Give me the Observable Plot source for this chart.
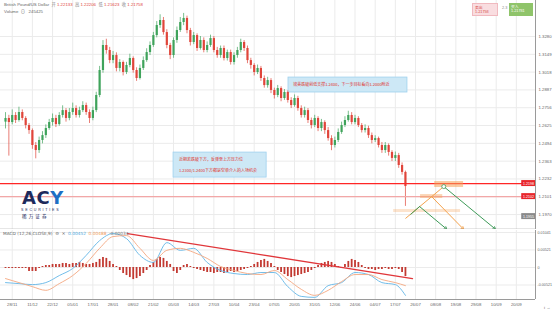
<!DOCTYPE html>
<html><head><meta charset="utf-8">
<script src="https://cdn.jsdelivr.net/npm/d3@7"></script>
<script src="https://cdn.jsdelivr.net/npm/@observablehq/plot@0.6"></script>
<style>
body{margin:0;background:#fff;font-family:"Liberation Sans","Noto Sans CJK SC",sans-serif}
#wrap{position:relative;width:553px;height:311px;overflow:hidden;background:#fff}
#main,#macd{position:absolute;left:0}
#main{top:0}#macd{top:229px}
.ov{position:absolute;white-space:nowrap;line-height:1}
</style></head><body><div id="wrap"><div id="main"></div><div id="macd"></div></div>
<script>
// ---------- data ----------
const firstOpen = 1.2650;
const closes = [
1.2677,1.2647,1.2699,1.2662,1.2721,1.2677,1.2625,1.2588,1.2478,1.2441,
1.2515,1.2551,1.2603,1.2647,1.2677,1.2632,1.2699,1.2735,1.2677,1.2721,
1.2750,1.2699,1.2735,1.2772,1.2721,1.2677,1.2735,1.2846,1.3030,1.3214,
1.3177,1.3103,1.3140,1.3045,1.3089,1.3015,1.3067,1.3118,1.3030,1.2971,
1.3045,1.3103,1.3162,1.3214,1.3287,1.3361,1.3398,1.3309,1.3214,1.3140,
1.3251,1.3324,1.3383,1.3413,1.3324,1.3236,1.3287,1.3192,1.3251,1.3177,
1.3214,1.3265,1.3177,1.3140,1.3192,1.3118,1.3162,1.3089,1.3140,1.3177,
1.3236,1.3192,1.3103,1.3067,1.3015,1.3045,1.2971,1.2919,1.2956,1.2883,
1.2846,1.2897,1.2824,1.2868,1.2809,1.2772,1.2824,1.2750,1.2699,1.2735,
1.2662,1.2625,1.2677,1.2603,1.2647,1.2588,1.2529,1.2478,1.2515,1.2574,
1.2625,1.2662,1.2699,1.2647,1.2677,1.2625,1.2588,1.2603,1.2551,1.2515,
1.2529,1.2478,1.2441,1.2478,1.2427,1.2383,1.2404,1.2331,1.2280,1.2176];
const highs = [
1.2720,1.2700,1.2740,1.2720,1.2760,1.2740,1.2690,1.2640,1.2600,1.2500,
1.2540,1.2580,1.2630,1.2670,1.2710,1.2700,1.2720,1.2770,1.2750,1.2750,
1.2790,1.2770,1.2760,1.2800,1.2790,1.2740,1.2760,1.2870,1.3060,1.3250,
1.3260,1.3200,1.3170,1.3160,1.3110,1.3100,1.3090,1.3150,1.3130,1.3050,
1.3070,1.3130,1.3190,1.3240,1.3310,1.3390,1.3440,1.3420,1.3330,1.3230,
1.3270,1.3350,1.3420,1.3450,1.3430,1.3340,1.3310,1.3300,1.3280,1.3270,
1.3240,1.3290,1.3280,1.3200,1.3210,1.3210,1.3180,1.3180,1.3160,1.3200,
1.3260,1.3250,1.3210,1.3120,1.3080,1.3070,1.3060,1.2990,1.2980,1.2970,
1.2900,1.2920,1.2910,1.2890,1.2880,1.2830,1.2850,1.2840,1.2770,1.2760,
1.2750,1.2680,1.2700,1.2690,1.2670,1.2660,1.2610,1.2550,1.2540,1.2600,
1.2650,1.2690,1.2730,1.2720,1.2700,1.2690,1.2640,1.2630,1.2620,1.2570,
1.2550,1.2540,1.2500,1.2500,1.2490,1.2440,1.2430,1.2420,1.2350,1.2290];
const lows = [
1.2600,1.2400,1.2630,1.2640,1.2650,1.2660,1.2600,1.2560,1.2450,1.2380,
1.2420,1.2490,1.2530,1.2590,1.2620,1.2610,1.2620,1.2680,1.2650,1.2660,
1.2700,1.2680,1.2680,1.2720,1.2700,1.2640,1.2660,1.2720,1.2830,1.3010,
1.3150,1.3080,1.3080,1.3020,1.3020,1.2990,1.3000,1.3050,1.3010,1.2950,
1.2960,1.3030,1.3090,1.3140,1.3200,1.3270,1.3340,1.3290,1.3190,1.3110,
1.3120,1.3230,1.3310,1.3360,1.3300,1.3210,1.3220,1.3170,1.3180,1.3160,
1.3160,1.3200,1.3160,1.3120,1.3120,1.3100,1.3100,1.3070,1.3070,1.3120,
1.3160,1.3170,1.3080,1.3040,1.2990,1.3000,1.2950,1.2900,1.2900,1.2860,
1.2820,1.2830,1.2800,1.2810,1.2790,1.2750,1.2760,1.2730,1.2680,1.2680,
1.2640,1.2600,1.2610,1.2580,1.2580,1.2560,1.2510,1.2440,1.2460,1.2500,
1.2560,1.2610,1.2650,1.2630,1.2630,1.2610,1.2570,1.2570,1.2530,1.2490,
1.2500,1.2460,1.2420,1.2420,1.2400,1.2360,1.2360,1.2310,1.2260,1.2030];

const priceTicks = [1.3280,1.3149,1.3018,1.2887,1.2756,1.2625,1.2494,1.2363,1.2232,1.2101,1.1970];
const dateLabels = ["28/11","11/12","22/12","05/01","17/01","28/01","08/02","21/02","05/03","14/03","27/03","10/04","23/04","07/05","20/05","31/05","12/06","24/06","04/07","17/07","26/07","08/08","19/08","29/08","10/09","20/09"];

const macdIdx = [0,4,8,12,16,20,24,28,32,36,40,44,48,52,56,60,64,68,72,76,80,84,88,92,96,100,104,108,112,116,119];
const difValues = [-0.0045,-0.0048,-0.0051,-0.0045,-0.0024,-0.0003,0.0036,0.0080,0.0101,0.0086,0.0036,0.0015,0.0074,0.0051,0.0057,0.0015,-0.0009,-0.0018,-0.0021,-0.0015,-0.0015,-0.0057,-0.0086,-0.0089,-0.0054,-0.0045,-0.0015,-0.0021,-0.0045,-0.0051,-0.0083];
const deaValues = [-0.0033,-0.0045,-0.0057,-0.0068,-0.0048,-0.0024,0.0012,0.0057,0.0092,0.0095,0.0057,0.0021,0.0051,0.0057,0.0045,0.0027,0.0003,-0.0009,-0.0018,-0.0021,-0.0009,-0.0036,-0.0065,-0.0083,-0.0068,-0.0042,-0.0021,-0.0021,-0.0036,-0.0045,-0.0054];
const histValues = [
-0.0003,-0.0003,-0.0003,-0.0003,-0.0003,-0.0003,-0.0003,-0.0012,-0.0012,-0.0012,
-0.0003,0.0003,0.0006,0.0006,0.0009,0.0009,0.0009,0.0012,0.0012,0.0009,
0.0012,0.0012,0.0015,0.0012,0.0009,0.0009,0.0012,0.0015,0.0024,0.0030,
0.0027,0.0018,0.0009,0.0003,-0.0009,-0.0018,-0.0024,-0.0030,-0.0036,-0.0033,
-0.0027,-0.0018,-0.0009,0.0006,0.0015,0.0024,0.0030,0.0027,0.0018,0.0009,
-0.0012,-0.0018,-0.0009,0.0006,0.0009,0.0003,-0.0003,-0.0006,-0.0009,-0.0012,
-0.0015,-0.0015,-0.0018,-0.0015,-0.0015,-0.0018,-0.0015,-0.0012,-0.0015,-0.0012,
-0.0009,-0.0006,-0.0003,0.0003,0.0009,0.0015,0.0021,0.0024,0.0018,0.0012,
0.0003,-0.0009,-0.0015,-0.0021,-0.0027,-0.0030,-0.0027,-0.0024,-0.0021,-0.0018,
-0.0015,-0.0009,-0.0003,0.0006,0.0012,0.0015,0.0018,0.0015,0.0009,0.0003,
-0.0003,0.0009,0.0018,0.0024,0.0021,0.0015,0.0006,-0.0003,-0.0006,-0.0006,
-0.0009,-0.0006,-0.0006,-0.0003,-0.0006,-0.0006,-0.0003,-0.0006,-0.0015,-0.0027];
const macdTicks = [0.01041,0.00521,0,-0.00521];
const macdTrendIdx = [36.3,121.1];
const macdTrendVal = [0.0101,-0.0033];

// horizontal levels & annotations (data units)
const levelMain = 1.2198;
const levelSecond = 1.2102;
const markerValue = 1.1955;
const zones = [
  {x1:127.7,x2:136.3,y1:1.2169,y2:1.2213,op:0.55},
  {x1:123.5,x2:130.1,y1:1.2088,y2:1.2117,op:0.45},
  {x1:115.5,x2:135.4,y1:1.1985,y2:1.2007,op:0.3}];
const projSegs = [
  {x1:119.0,y1:1.1941,x2:130.4,y2:1.2176,c:"#f4a24c",head:false},
  {x1:130.4,y1:1.2176,x2:145.8,y2:1.1862,c:"#3e9a58",head:true},
  {x1:126.8,y1:1.2102,x2:136.3,y2:1.1862,c:"#f4a24c",head:true},
  {x1:120.5,y1:1.1970,x2:123.2,y2:1.2029,c:"#3e9a58",head:false},
  {x1:123.2,y1:1.2029,x2:131.3,y2:1.1862,c:"#3e9a58",head:true}];
const notes = [
  {x1:84.2,x2:119.6,y1:1.2868,y2:1.2978,lines:[{x:85.6,y:1.2923,t:"镑美跌破前低支撑1.2400，下一步目标看向1.2000附近"}]},
  {x1:50.0,x2:77.7,y1:1.2242,y2:1.2426,lines:[{x:51.6,y:1.2375,t:"近期若跌破下方，反弹至上方压力位"},{x:51.6,y:1.2294,t:"1.2300/1.2400下方都是空单介入的入场机会"}]}];

// ---------- build ----------
const xDomain = [-1.49,157.7];
const yDomain = [1.1860,1.3545];
const macdDomain = [-0.00953,0.01101];
const G = "#3fa35b", R = "#e0453a";
const candles = closes.map((c,i)=>({i,open:i===0?firstOpen:closes[i-1],close:c,high:highs[i],low:lows[i]}));
const col = d => d.close>=d.open ? G : R;
const dateIdx = dateLabels.map((d,k)=>2+6*k);
const labelVals = [levelMain, levelSecond];
const noteLines = notes.flatMap(n=>n.lines);
const axisStyle = {fontSize:"4.3px",fontFamily:"Liberation Sans, sans-serif",color:"#666",background:"transparent"};

const main = Plot.plot({
  width:553,height:229,marginTop:0,marginBottom:0,marginLeft:0,marginRight:18,
  x:{domain:xDomain,axis:null},y:{domain:yDomain},color:{type:"identity"},
  style:axisStyle,
  marks:[
    Plot.gridY(priceTicks,{stroke:"#ebebeb",strokeOpacity:1}),
    Plot.gridX(dateIdx,{stroke:"#ebebeb",strokeOpacity:1}),
    Plot.rect(notes,{x1:"x1",x2:"x2",y1:"y1",y2:"y2",fill:"#cde8f6",stroke:"#9fd1ee",strokeWidth:0.8}),
    Plot.text(noteLines,{x:"x",y:"y",text:"t",textAnchor:"start",fontSize:4,fill:"#e0322a",fontFamily:"Noto Sans CJK SC"}),
    Plot.ruleX(candles,{x:"i",y1:"low",y2:"high",stroke:col,strokeWidth:0.7}),
    Plot.ruleX(candles,{x:"i",y1:"open",y2:"close",stroke:col,strokeWidth:2.2}),
    Plot.ruleY([levelSecond],{stroke:"#f2a7a7",strokeWidth:1.1}),
    Plot.ruleY([levelMain],{stroke:"#ff2626",strokeWidth:1.2,strokeOpacity:1}),
    Plot.rect(zones,{x1:"x1",x2:"x2",y1:"y1",y2:"y2",fill:"#f5a25a",fillOpacity:"op"}),
    Plot.link(projSegs.filter(d=>!d.head),{x1:"x1",y1:"y1",x2:"x2",y2:"y2",stroke:"c",strokeWidth:1}),
    Plot.arrow(projSegs.filter(d=>d.head),{x1:"x1",y1:"y1",x2:"x2",y2:"y2",stroke:"c",strokeWidth:1,headLength:4}),
    Plot.dot([projSegs[1]],{x:"x1",y:"y1",r:2,stroke:"#3e9a58",fill:"white",strokeWidth:0.8}),
    Plot.rect(labelVals,{x1:153.6,x2:xDomain[1],y1:d=>d-0.0022,y2:d=>d+0.0022,fill:"#e8262b"}),
    Plot.text(labelVals,{x:155.65,y:d=>d,text:d=>d.toFixed(4),fill:"white",fontSize:3.6}),
    Plot.rect([markerValue],{x1:153.6,x2:xDomain[1],y1:d=>d-0.0022,y2:d=>d+0.0022,fill:"#8a8a8a"}),
    Plot.text([markerValue],{x:155.65,y:d=>d,text:d=>d.toFixed(4),fill:"white",fontSize:3.6}),
    Plot.axisY(priceTicks,{anchor:"right",tickSize:0,tickPadding:3,tickFormat:d=>d.toFixed(4),fill:"#666"}),
    Plot.ruleX([xDomain[1]],{stroke:"#9a9a9a",strokeWidth:1}),
    Plot.ruleY([yDomain[0]],{stroke:"#9a9a9a",strokeWidth:1.5})
  ]
});
document.getElementById("main").appendChild(main);

const macdPts = macdIdx.map((i,k)=>({i,dif:difValues[k],dea:deaValues[k]}));
const hist = histValues.map((h,i)=>({i,h}));
const trend = macdTrendIdx.map((i,k)=>({i,v:macdTrendVal[k]}));
const macd = Plot.plot({
  width:553,height:82,marginTop:1,marginBottom:12,marginLeft:0,marginRight:18,
  x:{domain:xDomain},y:{domain:macdDomain},
  style:axisStyle,
  marks:[
    Plot.gridY(macdTicks,{stroke:"#ebebeb",strokeOpacity:1}),
    Plot.gridX(dateIdx,{stroke:"#ebebeb",strokeOpacity:1}),
    Plot.ruleX(hist,{x:"i",y1:0,y2:"h",stroke:"#c23a32",strokeWidth:1.8}),
    Plot.line(macdPts,{x:"i",y:"dif",stroke:"#62b6e6",strokeWidth:0.9,curve:"monotone-x"}),
    Plot.line(macdPts,{x:"i",y:"dea",stroke:"#f4a780",strokeWidth:0.9,curve:"monotone-x"}),
    Plot.line(trend,{x:"i",y:"v",stroke:"#e0363a",strokeWidth:1.3}),
    Plot.axisY(macdTicks,{anchor:"right",tickSize:0,tickPadding:2,fontSize:3.7,tickFormat:d=>d===0?"0":d.toFixed(5),fill:"#666"}),
    Plot.axisX(dateIdx,{anchor:"bottom",tickSize:0,tickPadding:3,tickFormat:v=>dateLabels[dateIdx.indexOf(v)],fill:"#666"}),
    Plot.ruleX([xDomain[1]],{stroke:"#9a9a9a",strokeWidth:1}),
    Plot.ruleY([macdDomain[0]],{stroke:"#9a9a9a",strokeWidth:1})
  ]
});
document.getElementById("macd").appendChild(macd);

// ---------- text overlays ----------
const wrap = document.getElementById("wrap");
function ov(html, left, top, style){const d=document.createElement("div");d.className="ov";d.style.left=left+"px";d.style.top=top+"px";d.style.cssText+=style||"";d.innerHTML=html;wrap.appendChild(d);return d;}
const hdrNames = ["开","高","低","收"];
const hdrVals = ["1.22133","1.22206","1.21623","1.21758"];
ov('British Pound/US Dollar&nbsp; '+hdrNames.map((n,k)=>'<span style="color:#888">'+n+'</span> <span style="color:#e0453a">'+hdrVals[k]+'</span>').join('&nbsp; '),4,3,'font-size:4.3px;color:#666;font-family:"Liberation Sans","Noto Sans CJK SC"');
ov('Volume &nbsp;⊙ &nbsp; 245425',4,10,'font-size:4.3px;color:#666');
ov('MACD (12,26,CLOSE,9) &nbsp;⚙ &nbsp;✕ &nbsp;<span style="color:#4aa8e0">0.00452</span> &nbsp;<span style="color:#f09a60">0.00488</span> &nbsp;<span style="color:#777">-0.00034</span>',3,232,'font-size:4.3px;color:#666;font-family:"DejaVu Sans"');
// bid / ask boxes
ov('卖出<br>1.21758',472,3,'width:26px;height:13px;box-sizing:border-box;padding:2px 2px;background:#f9dde0;border:0.6px solid #f0b9bf;color:#d84a4a;font-size:3.8px;font-family:"Noto Sans CJK SC"');
ov('2.3',502,7,'font-size:3.8px;color:#888');
ov('买入<br>1.21781',509,3,'width:24px;height:13px;box-sizing:border-box;padding:2px 2px;background:#8fc46a;color:#fff;font-size:3.8px;font-family:"Noto Sans CJK SC"');
// logo
ov('AC<span style="color:#1d6fc4">Y</span>',22,189,'font-size:18px;font-weight:bold;color:#1d2a5c;font-family:"DejaVu Sans";letter-spacing:0.5px');
ov('S E C U R I T I E S',21,209,'font-size:3.6px;color:#1d2a5c;letter-spacing:0.4px');
ov('稀 &nbsp;万 &nbsp;证 &nbsp;券',22,214,'font-size:4.6px;color:#1d2a5c;font-family:"Noto Sans CJK SC"');
</script></body></html>
